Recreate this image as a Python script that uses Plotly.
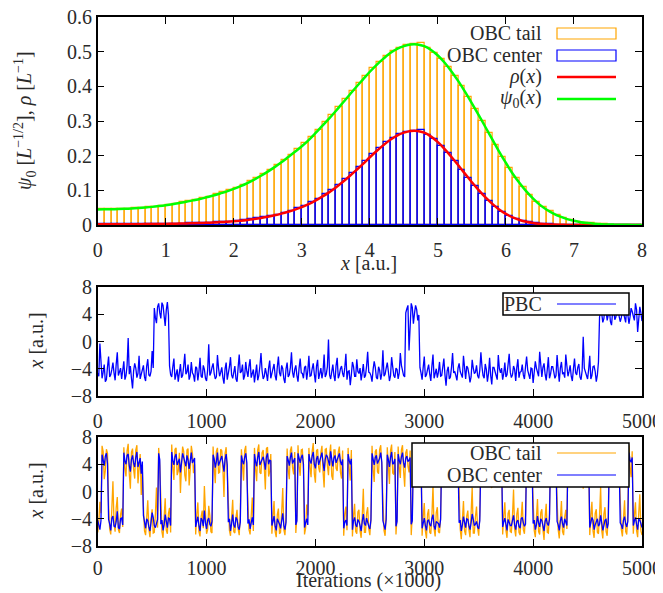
import plotly.graph_objects as go

W, H = 663, 593

# ---------------- top panel data ----------------
x_grid = [round(0.1 * k, 1) for k in range(81)]
psi0 = [0.0450, 0.0452, 0.0455, 0.0460, 0.0467, 0.0477, 0.0490, 0.0505, 0.0523, 0.0545,
        0.0570, 0.0600, 0.0635, 0.0670, 0.0710, 0.0750, 0.0800, 0.0850, 0.0910, 0.0970,
        0.104, 0.112, 0.121, 0.131, 0.142, 0.154, 0.167, 0.181, 0.196, 0.211,
        0.227, 0.245, 0.265, 0.286, 0.307, 0.329, 0.352, 0.375, 0.398, 0.420,
        0.442, 0.462, 0.480, 0.496, 0.508, 0.516, 0.521, 0.521, 0.516, 0.505,
        0.489, 0.468, 0.443, 0.415, 0.384, 0.351, 0.317, 0.282, 0.247, 0.212,
        0.179, 0.148, 0.121, 0.097, 0.076, 0.058, 0.044, 0.033, 0.024, 0.017,
        0.012, 0.008, 0.0055, 0.0036, 0.0023, 0.0015, 0.0010, 0.0006, 0.0004, 0.0002,
        0.0001]
rho = [0.0020, 0.0020, 0.0021, 0.0021, 0.0022, 0.0023, 0.0024, 0.0026, 0.0027, 0.0030,
       0.0032, 0.0036, 0.0040, 0.0045, 0.0050, 0.0056, 0.0064, 0.0072, 0.0083, 0.0094,
       0.0108, 0.0125, 0.0146, 0.0172, 0.0202, 0.0237, 0.0279, 0.0328, 0.0384, 0.0445,
       0.0515, 0.0600, 0.0702, 0.0818, 0.0942, 0.1082, 0.1239, 0.1406, 0.1584, 0.1764,
       0.1954, 0.2134, 0.2304, 0.2460, 0.2581, 0.2663, 0.2714, 0.2714, 0.2663, 0.2550,
       0.2391, 0.2190, 0.1962, 0.1722, 0.1475, 0.1232, 0.1005, 0.0795, 0.0610, 0.0449,
       0.0320, 0.0219, 0.0146, 0.0094, 0.0058, 0.0034, 0.0019, 0.0011, 0.0006, 0.0003,
       0.0001, 0, 0, 0, 0, 0, 0, 0, 0, 0,
       0]
bin_centers = [round(0.05 + 0.1 * k, 2) for k in range(80)]
tail_hist = [0.045, 0.045, 0.046, 0.046, 0.047, 0.048, 0.050, 0.051, 0.053, 0.056,
             0.058, 0.062, 0.065, 0.069, 0.073, 0.077, 0.082, 0.088, 0.094, 0.100,
             0.108, 0.116, 0.126, 0.136, 0.148, 0.160, 0.174, 0.188, 0.203, 0.219,
             0.236, 0.255, 0.275, 0.296, 0.318, 0.340, 0.363, 0.386, 0.409, 0.431,
             0.452, 0.471, 0.488, 0.502, 0.512, 0.518, 0.521, 0.524, 0.511, 0.497,
             0.479, 0.456, 0.429, 0.400, 0.368, 0.334, 0.300, 0.265, 0.230, 0.196,
             0.164, 0.135, 0.109, 0.087, 0.067, 0.051, 0.039, 0.029, 0.021, 0.015,
             0.010, 0.007, 0.005, 0.003, 0.002, 0.001, 0.001, 0.0005, 0.0003, 0.0002]
center_hist = [0.002, 0.002, 0.002, 0.002, 0.002, 0.002, 0.003, 0.003, 0.003, 0.003,
               0.003, 0.004, 0.004, 0.005, 0.005, 0.006, 0.007, 0.008, 0.009, 0.010,
               0.012, 0.014, 0.016, 0.019, 0.022, 0.026, 0.030, 0.036, 0.041, 0.048,
               0.056, 0.065, 0.076, 0.088, 0.101, 0.116, 0.132, 0.150, 0.167, 0.186,
               0.204, 0.222, 0.238, 0.252, 0.262, 0.269, 0.272, 0.274, 0.261, 0.247,
               0.229, 0.208, 0.184, 0.160, 0.135, 0.112, 0.090, 0.070, 0.053, 0.038,
               0.027, 0.018, 0.012, 0.008, 0.005, 0.003, 0.002, 0.001, 0.0005, 0.0002,
               0.0001, 0, 0, 0, 0, 0, 0, 0, 0, 0]

# ---------------- trace data, sampled at iterations 0,20,...,5000 (x1000) ----------------
iters_even = list(range(0, 5001, 20))
iters_odd = list(range(10, 5000, 20))
pbc_even = [-4.6, -0.3, -5.4, -3.4, -5.6, -2.2, -4.9, -3.1, -5.7, -1.6,
            -4.4, -5.5, -2.9, -5.0, 0.5, -3.6, -6.9, -3.2, -5.3, -2.1,
            -4.8, -3.5, -5.8, -2.6, -5.1, -1.4, 4.9, 2.7, 5.6, 3.4,
            5.3, 2.3, 5.8, -3.6, -5.2, -2.5, -4.7, -5.9, -3.3, -5.0,
            -1.8, -4.5, -5.6, -3.0, -4.9, -3.7, -5.7, -2.4, -5.3, -4.1,
            -5.8, -0.4, -4.6, -3.2, -5.5, -2.0, -5.1, -3.8, -6.2, -3.1,
            -4.8, -2.3, -5.4, -3.6, -5.9, -1.9, -4.4, -5.6, -3.0, -5.2,
            -2.6, -4.7, -6.0, -3.4, -5.0, -1.7, -5.5, -3.9, -5.8, -2.8,
            -4.6, -3.3, -5.7, -2.2, -5.1, -4.0, -6.1, -3.1, -4.9, -1.6,
            -5.3, -3.5, -5.9, -2.5, -4.7, -3.8, -5.6, -2.1, -5.0, -3.2,
            -6.0, -2.7, -4.5, -5.4, -1.9, -4.8, 0.3, -5.5, -3.4, -5.8,
            -2.4, -4.9, -3.6, -5.2, -1.8, -4.4, -6.4, -3.0, -5.1, -2.6,
            -4.7, -5.7, -3.3, -5.0, -1.5, -4.6, -5.9, -2.9, -5.3, -3.7,
            -5.6, -1.3, -4.8, -3.1, -5.8, -2.3, -5.0, -3.9, -5.5, -1.7,
            -4.5, -5.2, 4.8, -1.3, 5.6, 2.6, 5.3, 3.1, -3.8, -5.6,
            -2.2, -4.9, -3.4, -5.8, -1.9, -4.6, -5.3, -3.0, -5.0, -2.5,
            -6.5, -3.7, -5.2, -1.7, -4.4, -5.7, -3.2, -4.8, -2.1, -5.5,
            -3.9, -6.0, -2.7, -4.7, -3.5, -5.4, -1.6, -5.0, -3.3, -5.9,
            -2.4, -6.3, -3.8, -5.1, -2.0, -4.6, -5.6, -3.1, -4.9, -1.8,
            -5.3, -3.6, -5.8, -2.6, -4.5, -3.4, -5.5, -2.2, -5.0, -3.9,
            -6.1, -2.9, -4.7, -1.5, -5.2, -3.2, -5.7, -2.3, -4.8, -3.7,
            -5.4, -2.0, -5.9, -3.0, -4.6, -1.9, -5.1, -3.5, -5.8, -2.5,
            -4.9, -3.3, -5.6, 0.7, -4.4, -5.5, -2.1, -5.0, -3.6, -5.9,
            -3.0, 4.3, 2.8, 5.2, 3.1, 4.8, 2.4, 5.0, 3.6, 5.5,
            2.9, 4.6, 3.3, 5.3, 2.6, 4.9, 3.8, 5.6, 1.4, 5.1,
            3.0]
pbc_odd = [-5.1, -3.8, -4.5, -5.9, -3.7, -5.2, -4.1, -4.6, -3.3, -5.0,
           -3.9, -4.2, -5.6, -3.5, -4.8, -5.4, -4.3, -3.9, -4.7, -5.5,
           -4.0, -5.2, -3.6, -4.9, -4.4, -3.9, 3.5, 5.1, 4.2, 5.7,
           3.8, 4.6, 3.9, -4.9, -3.7, -5.6, -4.1, -4.3, -5.3, -3.6,
           -4.8, -3.4, -5.0, -4.6, -5.9, -3.9, -4.4, -5.1, -3.5, -5.4,
           -4.2, -5.0, -3.8, -4.7, -5.2, -3.9, -4.5, -5.3, -4.0, -5.6,
           -3.7, -4.9, -4.3, -5.5, -3.8, -4.6, -3.4, -5.0, -4.4, -3.6,
           -5.3, -4.1, -4.8, -5.7, -3.6, -4.3, -5.1, -4.7, -3.9, -5.4,
           -4.2, -5.0, -3.7, -4.6, -3.5, -5.5, -4.0, -5.2, -3.8, -4.5,
           -4.1, -5.0, -3.9, -4.6, -5.4, -3.6, -4.3, -5.1, -4.0, -4.8,
           -3.6, -5.5, -3.9, -4.4, -5.2, -3.7, -4.9, -4.2, -5.0, -3.5,
           -5.4, -4.0, -4.7, -3.8, -5.6, -4.3, -4.9, -3.7, -5.1, -4.4,
           -3.9, -4.6, -5.3, -3.6, -4.5, -5.0, -4.1, -3.8, -5.5, -4.2,
           -4.7, -5.1, -3.9, -4.4, -5.0, -3.7, -5.3, -4.1, -4.6, -3.5,
           -5.0, 4.2, 5.3, 3.4, 5.0, 4.1, 4.7, 3.9, -4.6, -3.8,
           -5.2, -4.1, -4.8, -3.6, -5.4, -4.0, -4.5, -5.1, -3.7, -4.9,
           -4.3, -5.5, -3.8, -4.6, -5.0, -3.9, -4.4, -5.3, -4.0, -3.6,
           -4.8, -5.2, -3.9, -4.5, -5.0, -4.2, -3.7, -5.4, -4.1, -4.7,
           -5.0, -3.8, -4.4, -5.6, -4.0, -3.9, -4.7, -5.2, -3.6, -4.5,
           -4.9, -4.1, -3.8, -5.3, -4.4, -4.9, -3.7, -4.2, -5.5, -4.0,
           -4.6, -3.9, -5.1, -4.3, -3.8, -4.8, -4.1, -5.4, -3.7, -4.5,
           -5.0, -4.2, -3.9, -4.7, -5.3, -3.6, -4.4, -5.1, -4.0, -4.6,
           -3.8, -5.2, -4.3, -3.9, -4.8, -4.1, -5.5, -3.7, -4.4, -4.9,
           3.6, 4.1, 3.4, 4.5, 3.9, 2.9, 4.3, 3.2, 4.6, 3.7,
           3.5, 4.2, 2.8, 4.0, 3.6, 4.4, 3.1, 4.7, 3.9, 4.2]
center_even = [-4.2, -5.6, 5.4, 3.8, 5.6, -4.1, -5.7, -3.6, -5.2, -2.9,
               -5.5, -3.9, 5.7, 4.0, 5.5, 2.9, 5.3, 3.6, 5.8, 4.2,
               2.6, -3.5, -5.4, -4.3, -5.8, -3.1, -5.0, -4.4, 5.6, -4.8,
               -5.7, -3.4, -5.3, -4.0, 5.8, 3.9, 5.5, 4.4, 2.8, 5.6,
               4.1, 5.3, 3.3, 5.7, 4.5, -5.2, -3.7, -5.8, -4.2, -2.8,
               -5.5, -3.9, -5.1, 5.4, 3.5, 5.7, 4.3, 5.2, 2.9, 5.5,
               -4.5, -5.8, -3.4, -5.3, -4.1, -5.6, 5.3, 4.0, 5.6, -4.7,
               -5.5, -3.8, 5.5, 3.7, 5.8, 4.4, 5.1, 3.2, 5.6, 4.6,
               -5.0, -3.6, -5.7, -4.3, -5.4, -3.2, -5.6, 5.2, 3.8, 5.7,
               4.5, -4.9, 5.6, 4.2, 5.4, -5.3, -4.0, 5.5, 4.1, 5.8,
               3.4, 5.2, 4.6, 5.7, 3.0, 5.4, 4.3, 5.9, 3.7, 5.3,
               4.8, 5.6, 3.9, -5.4, -4.2, 5.5, 4.0, -5.6, -3.8, -5.2,
               -4.4, -5.8, -3.3, -5.0, -4.6, -5.5, 5.6, 3.9, 5.3, 4.4,
               5.7, -4.3, -5.6, 5.4, 3.6, 5.8, 4.2, -5.1, 5.5, 4.0,
               5.7, 3.5, 5.2, 4.6, -4.8, 5.6, 3.8, 5.3, 4.5, -5.4,
               -3.9, -5.7, -4.2, -5.1, -3.4, -5.6, -4.5, -5.3, 5.4, 4.1,
               5.7, 3.6, 5.2, 4.4, 5.6, 3.9, -4.6, -5.8, -3.7, -5.3,
               -4.1, -5.6, -3.3, -5.0, -4.4, -5.5, 5.5, 3.8, 5.3, 4.6,
               5.8, 3.4, 5.1, 4.3, 5.6, 4.0, -5.2, -3.9, -5.7, -4.5,
               -5.0, -3.5, -5.6, -4.2, -5.4, -3.8, -5.1, 5.3, 4.2, 5.6,
               -4.7, -5.6, -3.6, -5.2, -4.3, -5.8, -3.9, -5.0, 5.5, 3.9,
               5.4, -4.4, -5.7, -3.7, -5.3, -4.6, 5.6, 4.1, 5.3, 3.7,
               5.7, 4.5, 5.2, 3.3, 5.5, 4.2, -5.3, -3.8, -5.6, -4.4,
               -5.1, -3.5, -5.7, -4.2, -5.4, 5.4, 3.9, 5.7, 4.4, 5.2,
               -4.6, -5.5, -3.7, -5.2, 5.7, 4.3, -5.0, -3.8, -5.6, -4.2,
               -5.3]
center_odd = [-5.0, -4.3, 4.6, 5.2, 4.1, -4.8, -3.9, -5.1, -4.4, -5.3,
              -4.0, -4.9, 4.5, 5.3, 3.8, 4.7, 4.2, 5.0, 3.6, 4.9,
              4.4, -4.6, -4.0, -5.2, -4.5, -3.8, -5.3, -4.1, 4.7, -4.2,
              -4.9, -4.5, -3.9, -5.0, 4.6, 5.1, 3.9, 4.8, 4.3, 5.0,
              3.7, 4.6, 5.1, 4.2, 4.9, -4.4, -5.0, -3.9, -5.1, -4.6,
              -4.2, -4.8, -4.4, 4.8, 4.4, 3.8, 5.0, 4.1, 4.7, 3.9,
              -4.0, -4.7, -4.9, -3.8, -5.2, -4.5, 4.5, 5.0, 4.2, -4.1,
              -4.6, -4.9, 4.4, 5.0, 3.9, 4.8, 4.3, 5.1, 4.0, 4.5,
              -4.4, -5.1, -4.0, -4.8, -3.9, -5.0, -4.5, 4.6, 5.0, 4.1,
              4.9, -4.3, 4.7, 5.0, 4.0, -4.6, -4.9, 4.6, 5.2, 4.0,
              4.8, 3.9, 5.0, 4.3, 4.7, 5.1, 3.8, 4.6, 4.9, 4.2,
              5.0, 4.4, 4.7, -4.5, -5.0, 4.6, 4.8, -4.3, -4.9, -4.1,
              -5.0, -4.4, -4.7, -3.9, -5.1, -4.2, 4.5, 5.0, 4.1, 4.9,
              4.3, -4.8, -4.1, 4.7, 5.0, 4.0, 4.8, -4.4, 4.6, 5.1,
              4.2, 4.9, 4.4, 5.0, -4.3, 4.5, 5.0, 4.1, 4.8, -4.6,
              -5.0, -4.3, -4.8, -4.0, -5.1, -4.4, -4.7, -4.1, 4.6, 5.0,
              4.3, 4.8, 4.0, 5.1, 4.5, 4.7, -4.2, -4.9, -4.5, -4.0,
              -5.0, -4.6, -4.1, -4.8, -5.2, -4.3, 4.7, 5.0, 4.2, 4.9,
              4.4, 4.8, 4.1, 5.0, 4.6, 4.9, -4.5, -4.8, -4.1, -5.0,
              -4.3, -4.9, -4.4, -5.1, -4.0, -4.6, -4.8, 4.6, 5.0, 4.4,
              -4.2, -4.9, -4.6, -4.0, -5.0, -4.4, -4.7, -4.1, 4.6, 4.9,
              4.3, -4.9, -4.3, -4.7, -4.0, -5.0, 4.8, 4.3, 4.9, 4.1,
              4.7, 5.0, 4.2, 4.8, 4.5, 5.0, -4.6, -4.2, -4.9, -4.0,
              -4.8, -4.4, -5.0, -4.1, -4.7, 4.5, 5.0, 4.2, 4.8, 4.4,
              -4.9, -4.2, -4.7, -4.4, 4.6, 5.0, -4.3, -4.8, -4.1, -4.7]
tail_even = [-6.0, -1.5, 6.7, 1.8, 6.2, -2.0, -6.3, 1.5, -5.9, -0.8,
             -6.1, -2.5, 6.5, 2.2, 7.0, 0.4, 6.3, 1.9, 6.8, 2.9,
             -0.5, -2.2, -6.4, -1.3, -6.7, -2.6, -6.0, 0.6, 6.4, -2.9,
             -6.8, -1.0, -6.2, -2.4, 6.9, 1.7, 6.4, 3.0, -0.2, 6.6,
             2.4, 6.1, 0.9, 6.7, 2.7, -6.3, -1.6, -6.6, -2.8, 0.8,
             -6.2, -2.1, -5.9, 6.6, 1.2, 6.4, 2.8, 6.0, -0.8, 6.5,
             -2.4, -6.5, -1.2, -6.1, -2.7, -6.4, 6.2, 1.6, 6.7, -2.6,
             -6.3, -0.9, 6.4, 1.5, 6.9, 2.6, 6.1, 0.3, 6.5, 2.9,
             -6.2, -1.4, -6.7, -2.5, -6.0, 0.5, -6.4, 6.3, 1.8, 6.6,
             2.5, -6.1, 6.8, 2.3, 6.2, -6.3, -1.9, 6.4, 2.1, 7.1,
             1.3, 6.2, 2.8, 6.7, 0.6, 6.3, 2.4, 6.9, 1.7, 6.1,
             3.0, 6.6, 1.9, -6.5, -2.2, 6.4, 1.6, -6.6, -1.8, -6.2,
             -2.7, -6.8, 0.4, -6.0, -2.3, -6.4, 6.7, 1.4, 6.2, 2.6,
             6.8, -2.4, -6.5, 6.5, 1.1, 6.9, 2.5, -6.3, 6.6, 2.0,
             6.8, 0.7, 6.2, 2.8, -6.4, 6.7, 1.5, 6.3, 2.4, -6.5,
             -1.7, -6.9, -2.6, -6.2, 0.9, -6.6, -2.3, -6.1, 6.5, 1.9,
             6.8, 0.8, 6.3, 2.7, 6.6, 1.6, -2.5, -7.0, -1.4, -6.4,
             -2.8, -6.7, 0.6, -6.1, -2.2, -6.5, 6.6, 1.7, 6.2, 2.9,
             6.9, 0.5, 6.1, 2.3, 6.7, 1.8, -6.3, -1.6, -6.8, -2.7,
             -6.0, 0.3, -6.6, -2.4, -6.4, -1.5, -6.2, 6.4, 1.9, 6.8,
             -2.5, -6.7, -1.1, -6.3, -2.6, -7.1, -1.8, -6.1, 6.6, 1.6,
             6.5, -2.3, -6.9, -1.4, -6.4, -2.7, 6.7, 2.0, 6.3, 1.2,
             6.9, 2.6, 6.2, 0.4, 6.6, 2.2, -6.4, -1.5, -6.8, -2.6,
             -6.2, 0.7, -6.9, -2.3, -6.5, 6.5, 1.7, 6.9, 2.5, 6.3,
             -2.4, -6.6, -1.3, -6.3, 6.8, 2.1, -6.2, -1.6, -6.7, -0.4,
             -6.4]
tail_odd = [-4.6, -3.2, 5.9, 3.1, 5.6, -5.5, -3.0, -4.8, -2.4, -5.6,
            -3.4, -5.2, 3.4, 6.0, 2.6, 5.8, 3.2, 6.1, 1.2, 5.5,
            3.1, -5.8, -3.1, -5.5, -4.0, -6.1, -3.3, -5.3, 3.8, -5.9,
            -3.6, -5.7, -3.2, -6.0, 3.5, 6.2, 2.4, 5.7, 3.8, 5.9,
            1.5, 6.3, 3.2, 5.6, 4.0, -3.4, -5.9, -3.7, -5.4, -3.1,
            -5.6, -3.5, -6.1, 3.6, 5.9, 2.7, 6.2, 3.4, 5.6, 2.9,
            -5.7, -3.3, -5.9, -3.8, -5.5, -3.2, 3.9, 6.0, 2.5, -5.6,
            -3.5, -5.8, 3.3, 6.1, 2.8, 5.7, 3.6, 6.3, 2.2, 5.5,
            -3.7, -5.9, -3.4, -6.2, -3.0, -5.6, -3.8, 3.2, 6.0, 3.5,
            5.8, -3.6, 3.7, 6.1, 3.3, -5.4, -3.5, 3.6, 5.9, 2.6,
            6.0, 3.5, 5.7, 2.9, 6.2, 3.8, 5.5, 2.3, 6.1, 3.4,
            5.8, 2.8, 6.0, -3.3, -5.7, 3.5, 6.1, -3.5, -5.9, -3.0,
            -5.8, -3.6, -6.0, -3.2, -5.5, -3.9, 3.3, 5.9, 2.9, 6.2,
            3.6, -5.7, -3.4, 3.4, 6.0, 2.7, 5.8, -3.6, 3.5, 6.1,
            3.0, 5.7, 3.7, 6.0, -3.4, 3.3, 5.9, 2.8, 5.6, -3.7,
            -5.8, -3.3, -6.0, -3.6, -5.5, -3.1, -5.9, -3.8, 3.6, 6.0,
            3.1, 5.8, 3.5, 6.2, 2.6, 5.7, -5.5, -3.3, -5.8, -3.6,
            -5.6, -3.2, -6.1, -3.7, -5.4, -3.4, 3.5, 6.0, 2.8, 5.9,
            3.2, 5.6, 3.7, 6.1, 2.9, 5.8, -3.5, -5.7, -3.2, -5.9,
            -3.6, -5.5, -3.3, -6.0, -3.8, -5.6, -3.4, 3.4, 5.9, 3.0,
            -5.7, -3.5, -5.9, -3.1, -5.6, -3.8, -6.0, -3.3, 3.7, 5.8,
            3.2, -5.6, -3.4, -5.9, -3.7, -5.5, 3.4, 6.1, 2.9, 5.7,
            3.6, 6.0, 2.7, 5.9, 3.3, 5.6, -3.6, -5.8, -3.2, -6.0,
            -3.5, -5.7, -3.3, -5.9, -3.7, 3.5, 6.0, 3.0, 5.8, 3.4,
            -5.6, -3.4, -5.9, -3.1, 3.6, 5.9, -3.5, -5.7, -3.2, -5.8]

x_ticks_top = [0, 1, 2, 3, 4, 5, 6, 7, 8]
y_ticks_top = [0, 0.1, 0.2, 0.3, 0.4, 0.5, 0.6]
x_ticks_it = [0, 1000, 2000, 3000, 4000, 5000]
y_ticks_tr = [-8, -4, 0, 4, 8]


def merge(even, odd):
    out = []
    for k, v in enumerate(even):
        out.append(v)
        if k < len(odd):
            out.append(odd[k])
    return out


iters = merge(iters_even, iters_odd)
pbc = merge(pbc_even, pbc_odd)
obc_center = merge(center_even, center_odd)
obc_tail = merge(tail_even, tail_odd)

ORANGE = "#FFA500"
BLUE = "#0000FF"
RED = "#FF0000"
GREEN = "#00FF00"
FONT = "Liberation Serif"
TXT = "#2a2a2a"
FS = 20

# the page body adds an 8px offset to the figure; work in window pixels
OFF = 8


def px(x):
    return (x - OFF) / W


def py(y):
    return 1 - (y - OFF) / H


X0, X1 = 97.7, 642
panels = [(17, 225), (287, 396), (437, 546)]

fig = go.Figure()
fig.add_trace(go.Bar(x=bin_centers, y=tail_hist, width=0.1, xaxis="x", yaxis="y",
                     marker=dict(color="rgba(0,0,0,0)", line=dict(color=ORANGE, width=1.2)),
                     showlegend=False))
fig.add_trace(go.Bar(x=bin_centers, y=center_hist, width=0.1, xaxis="x", yaxis="y",
                     marker=dict(color="rgba(0,0,0,0)", line=dict(color=BLUE, width=1.2)),
                     showlegend=False))
fig.add_trace(go.Scatter(x=x_grid, y=rho, mode="lines", line=dict(color=RED, width=2.5, shape="spline"),
                         xaxis="x", yaxis="y", showlegend=False))
fig.add_trace(go.Scatter(x=x_grid, y=psi0, mode="lines", line=dict(color=GREEN, width=2.5, shape="spline"),
                         xaxis="x", yaxis="y", showlegend=False))
fig.add_trace(go.Scatter(x=iters, y=pbc, mode="lines", line=dict(color=BLUE, width=1.3),
                         xaxis="x2", yaxis="y2", showlegend=False))
fig.add_trace(go.Scatter(x=iters, y=obc_tail, mode="lines", line=dict(color=ORANGE, width=1.3),
                         xaxis="x3", yaxis="y3", showlegend=False))
fig.add_trace(go.Scatter(x=iters, y=obc_center, mode="lines", line=dict(color=BLUE, width=1.3),
                         xaxis="x3", yaxis="y3", showlegend=False))

axis_common = dict(showline=True, linecolor="black", linewidth=1.5, mirror="ticks",
                   ticks="inside", ticklen=7, tickwidth=1, tickcolor="black",
                   showgrid=False, zeroline=False, automargin=False,
                   ticklabeloverflow="allow",
                   tickfont=dict(family=FONT, size=FS, color=TXT))

xdom = [px(X0), px(X1)]
layout = dict(
    template="none",
    width=W, height=H, margin=dict(l=0, r=0, t=0, b=0, pad=0), autosize=False,
    paper_bgcolor="white", plot_bgcolor="white",
    barmode="overlay", bargap=0,
    xaxis=dict(domain=xdom, range=[0, 8], tickvals=x_ticks_top, anchor="y",
               ticklabelstandoff=6, **axis_common),
    yaxis=dict(domain=[py(panels[0][1]), py(panels[0][0])], range=[0, 0.6],
               tickvals=y_ticks_top, anchor="x", **axis_common),
    xaxis2=dict(domain=xdom, range=[0, 5000], tickvals=x_ticks_it, anchor="y2",
                ticklabelstandoff=6, **axis_common),
    yaxis2=dict(domain=[py(panels[1][1]), py(panels[1][0])], range=[-8, 8],
                tickvals=y_ticks_tr, anchor="x2", **axis_common),
    xaxis3=dict(domain=xdom, range=[0, 5000], tickvals=x_ticks_it, anchor="y3",
                ticklabelstandoff=3, **axis_common),
    yaxis3=dict(domain=[py(panels[2][1]), py(panels[2][0])], range=[-8, 8],
                tickvals=y_ticks_tr, anchor="x3", **axis_common),
)
fig.update_layout(**layout)

shapes = []
annots = []


def text(x, y, s, anchor="right", angle=0):
    annots.append(dict(x=px(x), y=py(y), xref="paper", yref="paper", text=s, showarrow=False,
                       xanchor=anchor, yanchor="middle", textangle=angle,
                       font=dict(family=FONT, size=FS, color=TXT)))


def rect(x0, x1, y0, y1, color, width, fill):
    shapes.append(dict(type="rect", xref="paper", yref="paper", x0=px(x0), x1=px(x1),
                       y0=py(y1), y1=py(y0), line=dict(color=color, width=width),
                       fillcolor=fill, layer="above"))


def hline(x0, x1, y, color, width):
    shapes.append(dict(type="line", xref="paper", yref="paper", x0=px(x0), x1=px(x1),
                       y0=py(y), y1=py(y), line=dict(color=color, width=width), layer="above"))


# top legend
rect(557, 616, 28, 39, ORANGE, 1.2, "rgba(0,0,0,0)")
rect(557, 616, 50, 61, BLUE, 1.2, "rgba(0,0,0,0)")
hline(557, 616, 77, RED, 2.5)
hline(557, 616, 99, GREEN, 2.5)
text(544, 33, "OBC tail")
text(544, 55, "OBC center")
text(544, 77, "<i>ρ</i>(<i>x</i>)")
text(544, 99, "<i>ψ</i><sub>0</sub>(<i>x</i>)")

# middle legend
rect(503, 629, 293, 315, "black", 1.5, "white")
hline(557, 616, 304, BLUE, 1.2)
text(544, 304, "PBC")

# bottom legend
rect(412, 629, 443, 487, "black", 1.5, "white")
hline(557, 616, 453, ORANGE, 1.2)
hline(557, 616, 475, BLUE, 1.2)
text(544, 453, "OBC tail")
text(544, 475, "OBC center")

# axis titles
text(25, 121, "<i>ψ</i><sub>0</sub> [<i>L</i><sup>−1/2</sup>], <i>ρ</i> [<i>L</i><sup>−1</sup>]", anchor="center", angle=-90)
text(369, 263, "<i>x</i> [a.u.]", anchor="center")
text(35, 341.5, "<i>x</i> [a.u.]", anchor="center", angle=-90)
text(35, 491.5, "<i>x</i> [a.u.]", anchor="center", angle=-90)
text(369, 580, "Iterations (×1000)", anchor="center")

fig.update_layout(shapes=shapes, annotations=annots)
fig.write_html("out.html")
